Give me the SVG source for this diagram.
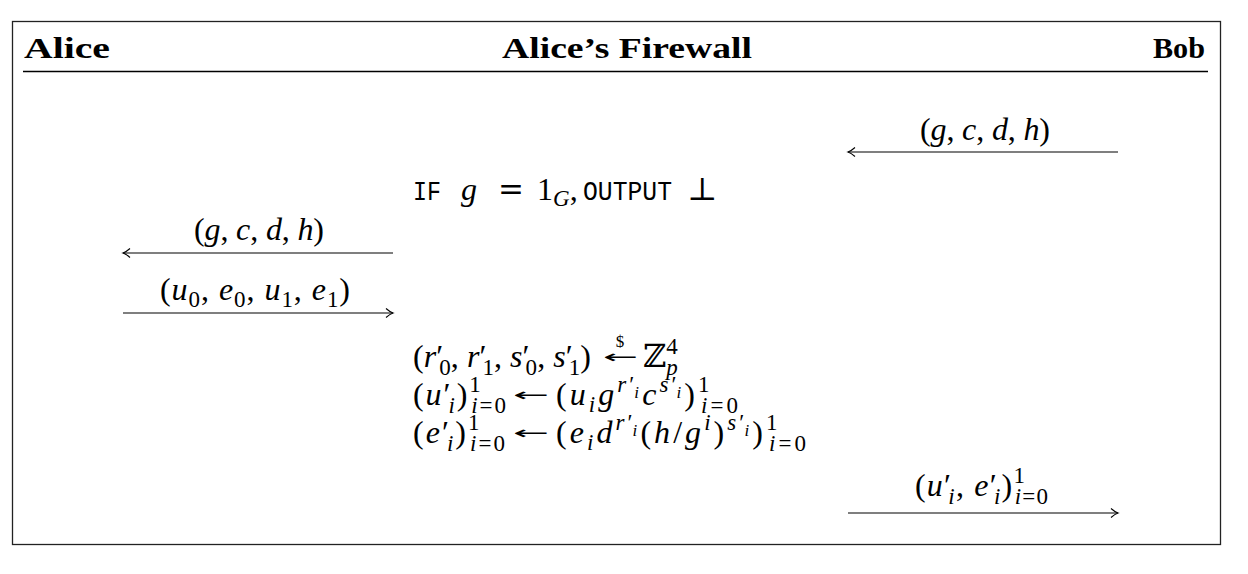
<svg xmlns="http://www.w3.org/2000/svg" width="1248" height="574" viewBox="0 0 1248 574">
<style>
.m{font-family:"Liberation Serif","DejaVu Serif",serif;font-size:32px;fill:#000}
.i{font-style:italic}
.s{font-size:23px}
.ss{font-size:17px}
.d{font-size:17px}
.sym{font-family:"DejaVu Serif","Liberation Serif",serif}
.arr{font-family:"DejaVu Sans","Liberation Sans",sans-serif;font-size:30px;fill:#000}
.tt{font-family:"Liberation Mono","DejaVu Sans Mono",monospace;font-size:28px}
.h{font-family:"Liberation Serif","DejaVu Serif",serif;font-weight:bold;font-size:30px;fill:#000}
.ln{stroke:#000;stroke-width:1.2;fill:none}
.ah{marker-end:url(#ah)}
</style>
<defs>
<marker id="ah" viewBox="-8 -6 10 12" refX="0" refY="0" markerWidth="10" markerHeight="12" markerUnits="userSpaceOnUse" orient="auto">
<path d="M-7,-4.5 Q-3,-1 0,0 Q-3,1 -7,4.5" fill="none" stroke="#000" stroke-width="1.1"/>
</marker>
</defs>
<rect x="12.5" y="21.5" width="1208" height="523" fill="#fff" stroke="#222" stroke-width="1.3"/>
<line x1="23" y1="71.5" x2="1208" y2="71.5" stroke="#000" stroke-width="1.3"/>
<g id="alice"><text class="h" x="24" y="58" textLength="86" lengthAdjust="spacingAndGlyphs">Alice</text></g>
<g id="firewall"><text class="h" x="502" y="58" textLength="250" lengthAdjust="spacingAndGlyphs">Alice’s Firewall</text></g>
<g id="bob"><text class="h" x="1153" y="58" textLength="52" lengthAdjust="spacingAndGlyphs">Bob</text></g>
<g id="firewall-check">
<text class="tt" x="413" y="200" textLength="28" lengthAdjust="spacingAndGlyphs">IF</text>
<text class="m" y="200"><tspan x="461" class="i">g</tspan><tspan x="498" class="sym" font-size="31">=</tspan><tspan x="537">1</tspan><tspan class="s i" dy="6">G</tspan><tspan dy="-6">,</tspan><tspan x="687" class="sym">⊥</tspan></text>
<text class="tt" x="583" y="200" textLength="89" lengthAdjust="spacingAndGlyphs">OUTPUT</text>
</g>
<g id="firewall-rerandomize">
<text class="m" x="413" y="367" textLength="178"><tspan>(</tspan><tspan class="i">r</tspan>′<tspan class="s" dx="-4" dy="8">0</tspan><tspan dy="-8">, </tspan><tspan class="i">r</tspan>′<tspan class="s" dx="-4" dy="8">1</tspan><tspan dy="-8">, </tspan><tspan class="i">s</tspan>′<tspan class="s" dx="-4" dy="8">0</tspan><tspan dy="-8">, </tspan><tspan class="i">s</tspan>′<tspan class="s" dx="-4" dy="8">1</tspan><tspan dy="-8">)</tspan></text>
<text class="m d" x="620" y="347" text-anchor="middle">$</text>
<text class="arr" transform="translate(603,358) scale(1,0.6)" x="0" y="8" textLength="35" lengthAdjust="spacingAndGlyphs">←</text>
<text class="m" x="643" y="367">ℤ<tspan class="s" dy="-13">4</tspan><tspan class="s i" dx="-11.5" dy="21">p</tspan></text>
<text class="m" x="413" y="405" textLength="93"><tspan>(</tspan><tspan class="i">u</tspan>′<tspan class="s i" dx="-4" dy="8">i</tspan><tspan dy="-8">)</tspan><tspan class="s" dy="-13">1</tspan><tspan class="s" dx="-11.5" dy="21"><tspan class="i">i</tspan>=0</tspan></text>
<text class="arr" transform="translate(513,396) scale(1,0.6)" x="0" y="8" textLength="36" lengthAdjust="spacingAndGlyphs">←</text>
<text class="m" x="556" y="405" textLength="182"><tspan>(</tspan><tspan class="i">u</tspan><tspan class="s i" dy="7">i</tspan><tspan class="i" dy="-7">g</tspan><tspan class="s i" dy="-13">r</tspan><tspan class="s">′</tspan><tspan class="ss i" dx="-3" dy="6">i</tspan><tspan class="i" dy="7">c</tspan><tspan class="s i" dy="-13">s</tspan><tspan class="s">′</tspan><tspan class="ss i" dx="-3" dy="6">i</tspan><tspan dy="7">)</tspan><tspan class="s" dy="-13">1</tspan><tspan class="s" dx="-11.5" dy="21"><tspan class="i">i</tspan>=0</tspan></text>
<text class="m" x="413" y="443" textLength="92"><tspan>(</tspan><tspan class="i">e</tspan>′<tspan class="s i" dx="-4" dy="8">i</tspan><tspan dy="-8">)</tspan><tspan class="s" dy="-13">1</tspan><tspan class="s" dx="-11.5" dy="21"><tspan class="i">i</tspan>=0</tspan></text>
<text class="arr" transform="translate(513,434) scale(1,0.6)" x="0" y="8" textLength="36" lengthAdjust="spacingAndGlyphs">←</text>
<text class="m" x="556" y="443" textLength="250"><tspan>(</tspan><tspan class="i">e</tspan><tspan class="s i" dy="7">i</tspan><tspan class="i" dy="-7">d</tspan><tspan class="s i" dy="-13">r</tspan><tspan class="s">′</tspan><tspan class="ss i" dx="-3" dy="6">i</tspan><tspan dy="7">(</tspan><tspan class="i">h</tspan>/<tspan class="i">g</tspan><tspan class="s i" dy="-13">i</tspan><tspan dy="13">)</tspan><tspan class="s i" dy="-13">s</tspan><tspan class="s">′</tspan><tspan class="ss i" dx="-3" dy="6">i</tspan><tspan dy="7">)</tspan><tspan class="s" dy="-13">1</tspan><tspan class="s" dx="-11.5" dy="21"><tspan class="i">i</tspan>=0</tspan></text>
</g>
<g id="connectors">
<g id="msg-bob-to-fw"><line class="ln ah" x1="1118" y1="152" x2="848" y2="152"/><text class="m" x="920" y="140" textLength="130">(<tspan class="i">g</tspan>, <tspan class="i">c</tspan>, <tspan class="i">d</tspan>, <tspan class="i">h</tspan>)</text></g>
<g id="msg-fw-to-alice"><line class="ln ah" x1="393" y1="253" x2="123" y2="253"/><text class="m" x="194" y="240" textLength="130">(<tspan class="i">g</tspan>, <tspan class="i">c</tspan>, <tspan class="i">d</tspan>, <tspan class="i">h</tspan>)</text></g>
<g id="msg-alice-to-fw"><line class="ln ah" x1="123" y1="313" x2="393" y2="313"/><text class="m" x="160" y="300" textLength="190">(<tspan class="i">u</tspan><tspan class="s" dy="7">0</tspan><tspan dy="-7">, </tspan><tspan class="i">e</tspan><tspan class="s" dy="7">0</tspan><tspan dy="-7">, </tspan><tspan class="i">u</tspan><tspan class="s" dy="7">1</tspan><tspan dy="-7">, </tspan><tspan class="i">e</tspan><tspan class="s" dy="7">1</tspan><tspan dy="-7">)</tspan></text></g>
<g id="msg-fw-to-bob"><line class="ln ah" x1="848" y1="513" x2="1118" y2="513"/><text class="m" x="915" y="496" textLength="133">(<tspan class="i">u</tspan>′<tspan class="s i" dx="-4" dy="8">i</tspan><tspan dy="-8">, </tspan><tspan class="i">e</tspan>′<tspan class="s i" dx="-4" dy="8">i</tspan><tspan dy="-8">)</tspan><tspan class="s" dy="-13">1</tspan><tspan class="s" dx="-11.5" dy="21"><tspan class="i">i</tspan>=0</tspan></text></g>
</g>
</svg>
